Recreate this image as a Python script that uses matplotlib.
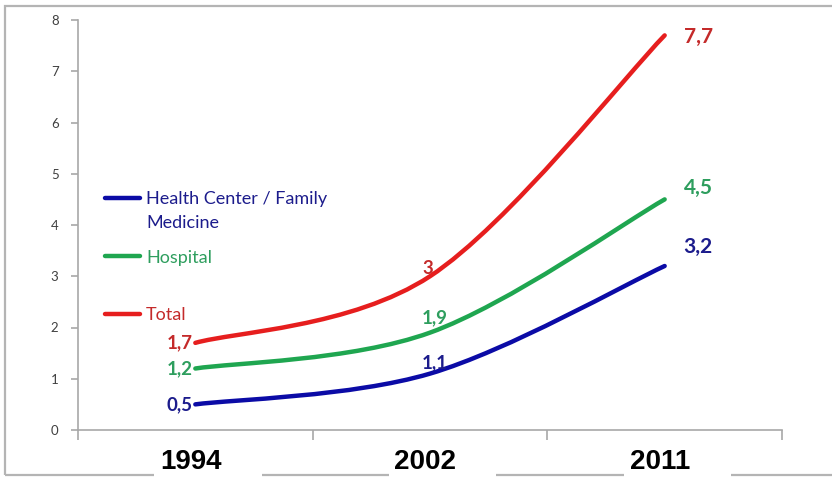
import matplotlib.pyplot as plt
from matplotlib.path import Path
from matplotlib.patches import PathPatch, Rectangle
from matplotlib import font_manager

years = ["1994", "2002", "2011"]
health_center = [0.5, 1.1, 3.2]
hospital = [1.2, 1.9, 4.5]
total = [1.7, 3.0, 7.7]

series = [
    ("Health Center / Family\nMedicine", health_center, "#0b0ba6", "#1c1c8c"),
    ("Hospital", hospital, "#1fa650", "#2e9e5e"),
    ("Total", total, "#e61e1e", "#c42a2a"),
]

# label offsets in pixels (left, middle, right point)
label_offsets = {
    "Health Center / Family\nMedicine": [(-3, 0), (5, 11), (19, 19)],
    "Hospital": [(-3, 0), (5, 15), (19, 11)],
    "Total": [(-3, 0), (-2, 8), (19, -2)],
}

installed = {f.name for f in font_manager.fontManager.ttflist}
body_font = "Lato" if "Lato" in installed else "DejaVu Sans"
year_font = "Liberation Sans Narrow" if "Liberation Sans Narrow" in installed else "Liberation Sans"
plt.rcParams["font.family"] = [body_font, "DejaVu Sans"]


def fmt(v):
    s = f"{v:g}"
    return s.replace(".", ",")


def smooth_path(xs, ys):
    # Excel-like smoothed line: cubic Bezier through the points
    n = len(xs)
    verts = [(xs[0], ys[0])]
    codes = [Path.MOVETO]
    for i in range(n - 1):
        x0, y0 = xs[max(i - 1, 0)], ys[max(i - 1, 0)]
        x1, y1 = xs[i], ys[i]
        x2, y2 = xs[i + 1], ys[i + 1]
        x3, y3 = xs[min(i + 2, n - 1)], ys[min(i + 2, n - 1)]
        c1 = (x1 + (x2 - x0) / 6, y1 + (y2 - y0) / 6)
        c2 = (x2 - (x3 - x1) / 6, y2 - (y3 - y1) / 6)
        verts += [c1, c2, (x2, y2)]
        codes += [Path.CURVE4] * 3
    return Path(verts, codes)


fig = plt.figure(figsize=(8.32, 4.78), dpi=100)
W, H = 832, 478

# outer frame, drawn underneath the axes
fig.add_artist(Rectangle((5 / W, 3 / H), 840 / W, 469 / H, transform=fig.transFigure,
                         fill=False, edgecolor="#b4b4b4", linewidth=1.6, zorder=-1))

ax = fig.add_axes([78 / W, 1 - 430 / H, 704 / W, 410 / H])
ax.patch.set_alpha(0)
x = list(range(len(years)))
ax.set_xlim(-0.5, len(years) - 0.5)
ax.set_ylim(0, 8)

for name, vals, color, text_color in series:
    ax.add_patch(PathPatch(smooth_path(x, vals), fill=False, edgecolor=color,
                           linewidth=3.2, capstyle="round", joinstyle="round", zorder=3))
    offs = label_offsets[name]
    for i, v in enumerate(vals):
        dx, dy = offs[i]
        if i == 0:
            ha = "right"
        elif i == len(vals) - 1:
            ha = "left"
        else:
            ha = "center"
        size = 15 if i == len(vals) - 1 else 13.5
        ax.annotate(fmt(v), (x[i], v), xytext=(dx * 0.72, dy * 0.72), textcoords="offset points",
                    ha=ha, va="center", color=text_color, fontsize=size, fontweight="bold", zorder=4)

# spines and ticks
for side in ["top", "right"]:
    ax.spines[side].set_visible(False)
for side in ["left", "bottom"]:
    ax.spines[side].set_color("#a8a8a8")
    ax.spines[side].set_linewidth(1.2)

ax.set_yticks(range(0, 9))
ax.tick_params(axis="y", direction="out", length=5, width=1.2, color="#a8a8a8",
               labelsize=9.5, labelcolor="#404040", pad=9)
ax.set_xticks([i - 0.5 for i in range(len(years) + 1)])
ax.set_xticklabels([])
ax.tick_params(axis="x", direction="out", length=7, width=1.2, color="#a8a8a8")

# year labels with white gaps in the bottom frame line
for i, yr in enumerate(years):
    ax.add_patch(Rectangle((i - 0.175, -0.14), 0.457, 0.06, transform=ax.get_xaxis_transform(),
                           facecolor="white", edgecolor="none", clip_on=False, zorder=5))
    ax.text(i - 0.02, -0.078, yr, transform=ax.get_xaxis_transform(), ha="center", va="center",
            fontsize=20, fontweight="bold", family=year_font, color="black", zorder=6)

# legend drawn on the left
legend_y = [0.566, 0.424, 0.283]
line_step = 24 / 410
for (name, vals, color, text_color), ly in zip(series, legend_y):
    ax.plot([0.038, 0.088], [ly, ly], transform=ax.transAxes, color=color,
            linewidth=3.2, solid_capstyle="round", clip_on=False)
    for k, part in enumerate(name.split("\n")):
        ax.text(0.0966, ly - k * line_step, part, transform=ax.transAxes, ha="left",
                va="center_baseline", color=text_color, fontsize=13)

fig.savefig("out.png", dpi=100)
